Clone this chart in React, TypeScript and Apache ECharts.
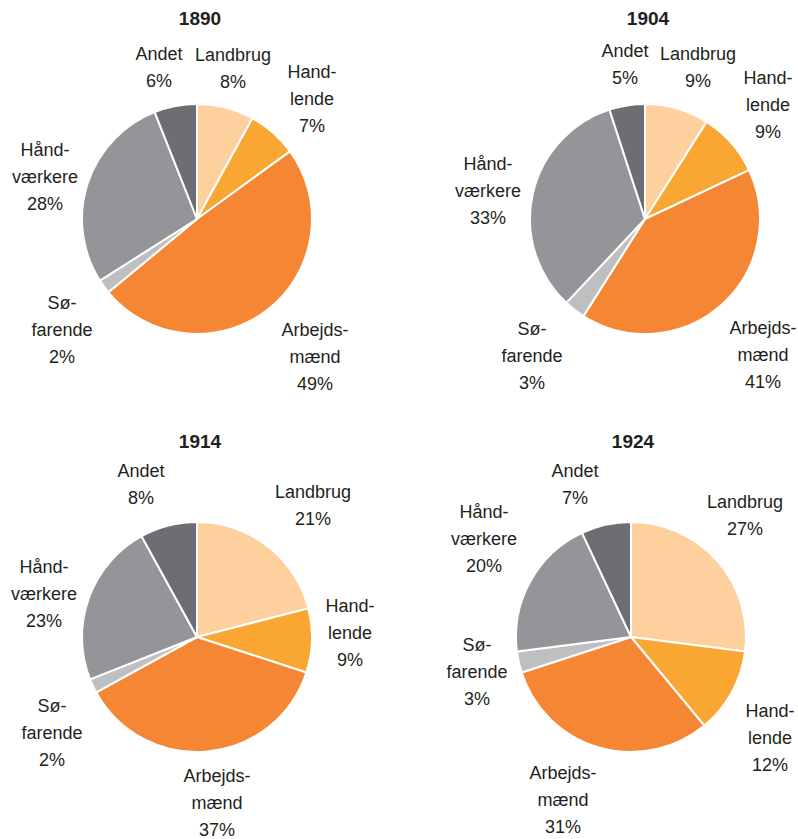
import React, { useEffect, useRef } from "react";
import * as echarts from "echarts";

// Categories (order clockwise from 12 o'clock)
const categories = ["Landbrug", "Handlende", "Arbejdsmænd", "Søfarende", "Håndværkere", "Andet"];
const labelNames = ["Landbrug", "Hand-\nlende", "Arbejds-\nmænd", "Sø-\nfarende", "Hånd-\nværkere", "Andet"];
const colors = ["#FED09E", "#F9A633", "#F58634", "#BEBFC1", "#939598", "#6D6E71"];

const years = ["1890", "1904", "1914", "1924"];
const values1890 = [8, 7, 49, 2, 28, 6];
const values1904 = [9, 9, 41, 3, 33, 5];
const values1914 = [21, 9, 37, 2, 23, 8];
const values1924 = [27, 12, 31, 3, 20, 7];
const seriesValues = [values1890, values1904, values1914, values1924];

// Layout (positions, not data)
const pieCenters = [
  [197, 219],
  [645, 219],
  [197, 637],
  [631, 637],
];
const pieRadius = 115;
const titlePos = [
  [200, 18],
  [648, 18],
  [200, 441],
  [633, 441],
];
// label block centers per pie, per category
const labelPos = [
  [[233, 68], [312, 99], [315, 357], [62, 330], [45, 177], [159, 67]],
  [[698, 67], [768, 105], [763, 355], [532, 356], [488, 191], [625, 64]],
  [[313, 505], [350, 633], [217, 803], [52, 733], [44, 594], [141, 484]],
  [[745, 515], [770, 738], [563, 800], [477, 672], [484, 539], [575, 484]],
];

const FONT = "'Liberation Sans', Arial, Helvetica, sans-serif";

export default function App() {
  const ref = useRef<HTMLDivElement>(null);
  useEffect(() => {
    if (!ref.current) return;
    const chart = echarts.init(ref.current, undefined, { renderer: "svg" });
    const series = seriesValues.map((vals, si) => ({
      type: "pie",
      center: pieCenters[si],
      radius: pieRadius,
      startAngle: 90,
      clockwise: true,
      avoidLabelOverlap: false,
      silent: true,
      emphasis: { disabled: true },
      itemStyle: { borderColor: "#ffffff", borderWidth: 2 },
      labelLine: { show: false },
      label: {
        show: true,
        position: "outside",
        fontFamily: FONT,
        fontSize: 18,
        lineHeight: 27,
        color: "#231F20",
        align: "center",
        formatter: (p: any) => `${labelNames[p.dataIndex]}\n${vals[p.dataIndex]}%`,
      },
      labelLayout: (p: any) => ({
        x: labelPos[si][p.dataIndex][0],
        y: labelPos[si][p.dataIndex][1],
        align: "center",
        verticalAlign: "middle",
      }),
      data: categories.map((c, i) => ({
        name: c,
        value: vals[i],
        itemStyle: { color: colors[i] },
      })),
    }));
    chart.setOption({
      animation: false,
      backgroundColor: "#ffffff",
      graphic: years.map((y, i) => ({
        type: "text",
        x: titlePos[i][0],
        y: titlePos[i][1],
        style: {
          text: y,
          fill: "#231F20",
          font: `bold 19px ${FONT}`,
          align: "center",
          verticalAlign: "middle",
          textAlign: "center",
          textVerticalAlign: "middle",
        },
      })),
      series,
    });
    return () => chart.dispose();
  }, []);
  return (
    <div
      ref={ref}
      style={{ position: "absolute", left: 0, top: 0, width: 798, height: 839, background: "#fff" }}
    />
  );
}
